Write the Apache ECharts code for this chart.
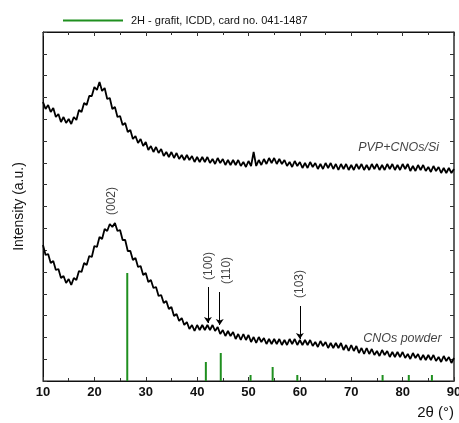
<!DOCTYPE html>
<html>
<head>
<meta charset="utf-8">
<script src="https://cdn.jsdelivr.net/npm/echarts@6/dist/echarts.min.js"></script>
<style>
html,body{margin:0;padding:0;background:#fff;}
#c{width:459px;height:423px;}
</style>
</head>
<body>
<div id="c"></div>
<script>
// 2theta sampling (degrees)
const twoTheta = [10,10.5,11,11.5,12,12.5,13,13.5,14,14.5,15,15.5,16,16.5,17,17.5,18,18.5,19,19.5,
20,20.5,21,21.5,22,22.5,23,23.5,24,24.5,25,25.5,26,26.5,27,27.5,28,28.5,29,29.5,
30,30.5,31,31.5,32,32.5,33,33.5,34,34.5,35,35.5,36,36.5,37,37.5,38,38.5,39,39.5,
40,40.5,41,41.5,42,42.5,43,43.5,44,44.5,45,45.5,46,46.5,47,47.5,48,48.5,49,49.5,
50,50.5,51,51.5,52,52.5,53,53.5,54,54.5,55,55.5,56,56.5,57,57.5,58,58.5,59,59.5,
60,60.5,61,61.5,62,62.5,63,63.5,64,64.5,65,65.5,66,66.5,67,67.5,68,68.5,69,69.5,
70,70.5,71,71.5,72,72.5,73,73.5,74,74.5,75,75.5,76,76.5,77,77.5,78,78.5,79,79.5,
80,80.5,81,81.5,82,82.5,83,83.5,84,84.5,85,85.5,86,86.5,87,87.5,88,88.5,89,89.5,90];

// PVP+CNOs/Si intensity (a.u., offset)
const pvpCNOs = [279,272,276,269,273,264,267,259,264,258,262,257,264,261,271,269,278,276,285,285,
294,291,299,290,293,282,283,272,274,264,265,256,258,249,251,242,245,238,242,235,
239,231,235,229,234,228,232,225,229,224,229,223,228,222,226,221,226,221,225,219,
224,219,224,219,224,218,222,217,223,218,222,216,221,216,221,216,221,215,219,214,
220,215,229,215,221,216,222,217,223,218,223,217,222,217,221,215,219,214,220,215,
219,213,218,213,219,214,218,212,217,212,218,213,218,212,217,211,217,212,217,211,
216,211,217,212,217,211,216,211,217,212,217,211,216,211,217,212,217,211,216,211,
217,212,217,210,215,210,216,211,216,210,214,209,215,210,214,208,213,208,213,208,212];

// CNOs powder intensity (a.u.)
const cnosPowder = [136,126,127,118,120,111,112,103,105,98,102,96,103,101,110,109,118,116,125,124,
135,134,144,142,152,150,157,154,158,150,151,141,141,130,130,121,123,114,115,106,
108,99,101,93,94,85,86,78,80,72,74,65,67,60,63,56,59,52,56,50,
56,51,56,51,56,51,56,50,54,47,51,45,50,45,49,42,47,41,47,41,
46,39,44,38,44,39,43,37,42,37,42,37,42,36,41,36,42,37,42,36,
41,36,41,36,41,35,39,34,40,35,39,33,38,33,38,33,38,31,36,30,
36,30,35,28,33,27,33,27,32,26,30,25,31,26,30,24,29,24,29,24,
29,23,27,22,28,23,27,21,26,21,26,21,26,20,24,19,25,20,24,18,23];

// ICDD 041-1487 reference lines
const icddPos = [26.4, 41.7, 44.6, 50.4, 54.7, 59.5, 76.1, 81.2, 85.7];
const icddInt = [108, 19, 28, 6, 14, 6, 6, 6, 6];

// Peak annotations
const peakLabels = ['(002)', '(100)', '(110)', '(103)'];
const peakLabelX = [23.4, 42.2, 45.8, 60.0];
const peakLabelY = [180, 115, 110.5, 97];
const arrowX = [42.1, 44.4, 60.0];
const arrowFrom = [94, 89, 75];
const arrowTo = [58, 56, 42];

// Sample labels
const sampleLabels = ['PVP+CNOs/Si', 'CNOs powder'];
const sampleLabelX = [87.1, 87.6];
const sampleLabelY = [233, 42];

const xTicks = [10, 20, 30, 40, 50, 60, 70, 80, 90];
const legendName = '2H - grafit, ICDD, card no. 041-1487';

const FONT = 'Arial, "Liberation Sans", sans-serif';
const yMax = 349, yInt = yMax / 16;

const chart = echarts.init(document.getElementById('c'), null, {renderer: 'canvas'});

const axisCommon = {
  type: 'value',
  splitLine: {show: false},
  axisLine: {show: true, onZero: false, lineStyle: {color: '#111', width: 1}},
  axisTick: {show: true, inside: true, length: 4, lineStyle: {color: '#333'}},
};

const option = {
  animation: false,
  backgroundColor: '#fff',
  textStyle: {fontFamily: FONT},
  grid: {left: 43, right: 5, top: 32, bottom: 42, outerBoundsMode: 'none', containLabel: false,
         show: true, borderColor: '#111', borderWidth: 1, backgroundColor: 'transparent'},
  legend: {
    data: [legendName],
    left: 63, top: 15, padding: 0,
    icon: 'rect', itemWidth: 60, itemHeight: 2,
    itemGap: 8,
    textStyle: {fontSize: 11, color: '#111', fontFamily: FONT, padding: [0, 0, 0, 3]},
    selectedMode: false
  },
  xAxis: [
    Object.assign({}, axisCommon, {
      position: 'bottom', min: xTicks[0], max: xTicks[xTicks.length - 1], interval: 10,
      minorTick: {show: true, splitNumber: 2, length: 3, lineStyle: {color: '#333'}},
      axisLabel: {fontSize: 13, fontWeight: 'bold', color: '#111', margin: 5, fontFamily: FONT},
      name: '2θ (°)', nameLocation: 'end', nameGap: 0,
      nameTextStyle: {fontSize: 15, color: '#111', align: 'right', verticalAlign: 'top', padding: [24, 0, 0, 0], fontFamily: FONT}
    }),
    Object.assign({}, axisCommon, {
      position: 'top', min: xTicks[0], max: xTicks[xTicks.length - 1], interval: 10,
      minorTick: {show: true, splitNumber: 2, length: 3, lineStyle: {color: '#333'}},
      axisLabel: {show: false}
    })
  ],
  yAxis: [
    Object.assign({}, axisCommon, {
      position: 'left', min: 0, max: yMax, interval: yInt,
      axisLabel: {show: false},
      name: 'Intensity (a.u.)', nameLocation: 'middle', nameGap: 17,
      nameTextStyle: {fontSize: 14, color: '#111', fontFamily: FONT}
    }),
    Object.assign({}, axisCommon, {
      position: 'right', min: 0, max: yMax, interval: yInt,
      axisLine: {show: true, onZero: false, lineStyle: {color: '#555', width: 1.5}},
      axisLabel: {show: false}
    })
  ],
  series: [
    {
      name: legendName, type: 'bar', xAxisIndex: 0, yAxisIndex: 0,
      barWidth: 2, itemStyle: {color: '#1f8f1f'},
      data: icddPos.map((p, i) => [p, icddInt[i]]),
      silent: true
    },
    {
      name: 'PVP+CNOs/Si', type: 'line', showSymbol: false, symbol: 'none',
      lineStyle: {color: '#000', width: 1.8},
      data: twoTheta.map((t, i) => [t, pvpCNOs[i]]),
      silent: true
    },
    {
      name: 'CNOs powder', type: 'line', showSymbol: false, symbol: 'none',
      lineStyle: {color: '#000', width: 1.8},
      data: twoTheta.map((t, i) => [t, cnosPowder[i]]),
      silent: true
    },
    {
      name: 'arrows', type: 'line', symbol: 'none', silent: true,
      xAxisIndex: 1, yAxisIndex: 1,
      data: [],
      markLine: {
        silent: true, symbol: ['none', 'arrow'], symbolSize: 6,
        lineStyle: {color: '#000', width: 1, type: 'solid'},
        label: {show: false},
        emphasis: {disabled: true},
        data: arrowX.map((x, i) => [{coord: [x, arrowFrom[i]]}, {coord: [x, arrowTo[i]]}])
      }
    },
    {
      name: 'peaks', type: 'scatter', symbolSize: 0,
      data: peakLabels.map((l, i) => ({value: [peakLabelX[i], peakLabelY[i]], name: l})),
      label: {show: true, position: 'inside', rotate: 90, formatter: p => p.name,
              fontSize: 12, color: '#111', fontFamily: FONT},
      silent: true
    },
    {
      name: 'samples', type: 'scatter', symbolSize: 0,
      data: sampleLabels.map((l, i) => ({value: [sampleLabelX[i], sampleLabelY[i]], name: l})),
      label: {show: true, position: 'left', distance: 0, formatter: p => p.name,
              fontSize: 12.5, fontStyle: 'italic', color: '#111', fontFamily: FONT},
      silent: true
    }
  ]
};
chart.setOption(option);
</script>
</body>
</html>
